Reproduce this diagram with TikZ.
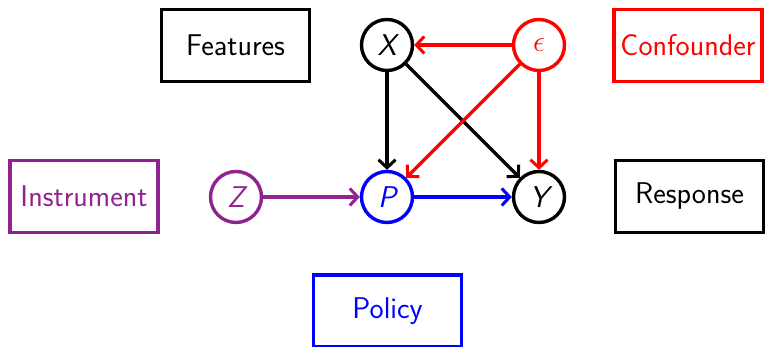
\documentclass[tikz,border=0pt]{standalone}
\usetikzlibrary{arrows.meta}
\usepackage{graphicx}
\definecolor{myred}{RGB}{255,0,0}
\definecolor{myblue}{RGB}{0,0,255}
\definecolor{mypurple}{RGB}{145,35,145}
\begin{document}
\begin{tikzpicture}[x=1pt,y=1pt,
  lbl/.style={draw,line width=3.4pt,minimum width=148pt,minimum height=72pt,inner sep=0pt,font=\fontsize{30}{36}\selectfont\sffamily},
  var/.style={draw,circle,line width=3.4pt,minimum size=51pt,inner sep=0pt,font=\fontsize{30}{36}\selectfont\sffamily\itshape},
  edge/.style={-{Straight Barb[length=8pt,width=17pt,line width=3pt]},line width=3.2pt}]
\useasboundingbox[clip] (0,0) rectangle (766,347);
\node[var] (X) at (387,302) {X};
\node[var,myred,text=myred] (E) at (539,302) {\scalebox{1.2}{$\epsilon$}};
\node[var,mypurple,text=mypurple] (Z) at (236,150) {Z};
\node[var,myblue,text=myblue] (P) at (387,150) {P};
\node[var] (Y) at (539,150) {Y};
\node[lbl] (feat) at (235.5,301.5) {Features};
\node[lbl,myred,text=myred] (conf) at (688,301.5) {Confounder};
\node[lbl,mypurple,text=mypurple] (inst) at (84,150.5) {Instrument};
\node[lbl] (resp) at (689.5,150.5) {Response};
\node[lbl,myblue,text=myblue] (pol) at (387.5,36) {Policy};
\draw[edge] (X) -- (P);
\draw[edge] (X) -- (Y);
\draw[edge,myred] (E) -- (X);
\draw[edge,myred] (E) -- (P);
\draw[edge,myred] (E) -- (Y);
\draw[edge,mypurple] (Z) -- (P);
\draw[edge,myblue] (P) -- (Y);
\end{tikzpicture}
\end{document}
